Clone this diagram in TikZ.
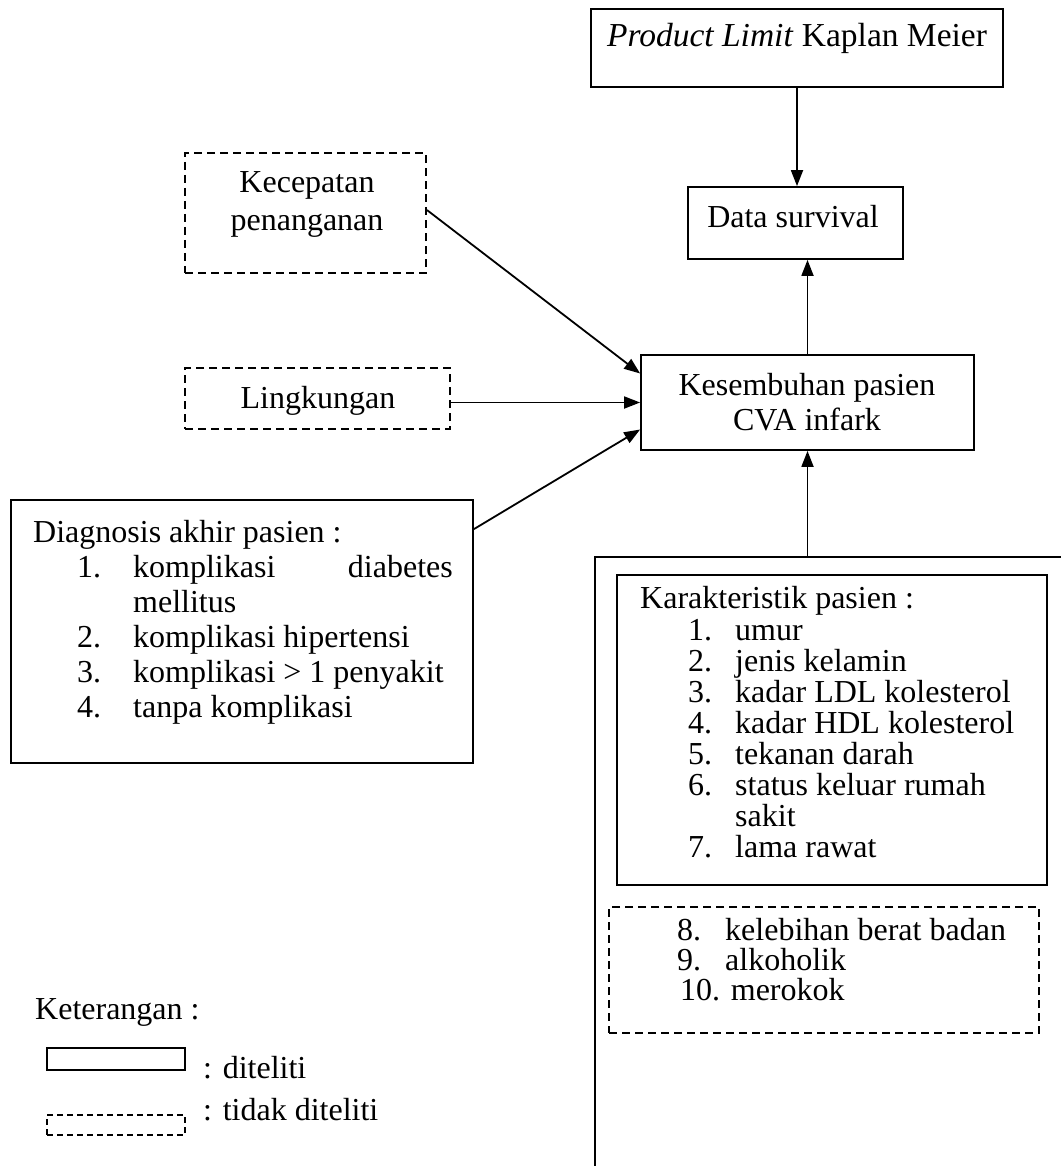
\documentclass[tikz,border=0pt]{standalone}
\usepackage{fontspec}
\setmainfont{Liberation Serif}
\usetikzlibrary{arrows.meta}
\begin{document}
\begin{tikzpicture}[x=1pt,y=-1pt,
  box/.style={draw,line width=1.8pt,rectangle,inner sep=0pt},
  dbox/.style={box,dash pattern=on 8pt off 5pt},
  txt/.style={inner sep=0pt,anchor=base,font=\fontsize{32}{34}\selectfont},
  ltxt/.style={txt,anchor=base west},
  rtxt/.style={txt,anchor=base east},
  arr/.style={line width=1.8pt,-{Triangle[length=16pt,width=12pt]}},
  ln/.style={line width=1.8pt}]
\useasboundingbox[fill=white] (0,0) rectangle (1061,1166);

% boxes
\node[box,minimum width=412pt,minimum height=78pt] (pl) at (797,48) {};
\node[box,minimum width=215pt,minimum height=72pt] (ds) at (795.5,223) {};
\node[box,minimum width=333pt,minimum height=95pt] (kes) at (807.5,402.5) {};
\node[dbox,minimum width=241pt,minimum height=120pt] (kec) at (305.5,213) {};
\node[dbox,minimum width=265pt,minimum height=61pt] (lin) at (317.5,398.5) {};
\node[box,minimum width=462pt,minimum height=263pt] (dia) at (242,631.5) {};
\node[box,minimum width=430pt,minimum height=310pt] (kar) at (832,730) {};
\node[dbox,minimum width=430pt,minimum height=126pt] (dl) at (824,970) {};
\node[box,minimum width=138pt,minimum height=22pt] (lg1) at (116,1059) {};
\node[dbox,dash pattern=on 6pt off 4pt,minimum width=138pt,minimum height=20pt] (lg2) at (116,1125) {};

% texts
\node[txt,font=\fontsize{33.5}{36}\selectfont] (plt) at (797,47) {\textit{Product Limit} Kaplan Meier};
\node[txt] (dst) at (793,228) {Data survival};
\node[txt] (kes1) at (807,395) {Kesembuhan pasien};
\node[txt] (kes2) at (807,430) {CVA infark};
\node[txt] (kec1) at (307,193) {Kecepatan};
\node[txt] (kec2) at (307,230) {penanganan};
\node[txt] (lint) at (318,408) {Lingkungan};

\node[ltxt] (diat) at (33,542) {Diagnosis akhir pasien :};
\node[ltxt] (dn1) at (77,577) {1.};
\node[ltxt] (di1) at (133,577) {komplikasi};
\node[rtxt] (di1b) at (453,577) {diabetes};
\node[ltxt] (di1c) at (133,612) {mellitus};
\node[ltxt] (dn2) at (77,647) {2.};
\node[ltxt] (di2) at (133,647) {komplikasi hipertensi};
\node[ltxt] (dn3) at (77,682) {3.};
\node[ltxt] (di3) at (133,682) {komplikasi > 1 penyakit};
\node[ltxt] (dn4) at (77,717) {4.};
\node[ltxt] (di4) at (133,717) {tanpa komplikasi};

\node[ltxt] (kart) at (640,608) {Karakteristik pasien :};
\foreach \n/\t/\y in {1/umur/640, 2/jenis kelamin/671, 3/kadar LDL kolesterol/702,
  4/kadar HDL kolesterol/733, 5/tekanan darah/764, 6/status keluar rumah/795, 7/lama rawat/857}{
  \node[ltxt] (kn\n) at (688,\y) {\n.};
  \node[ltxt] (ki\n) at (735,\y) {\t};
}
\node[ltxt] (ki6b) at (735,826) {sakit};

\node[ltxt] (ln8) at (677,940) {8.};
\node[ltxt] (li8) at (725,940) {kelebihan berat badan};
\node[ltxt] (ln9) at (677,970) {9.};
\node[ltxt] (li9) at (725,970) {alkoholik};
\node[ltxt] (li10) at (680,1000) {10. merokok};

\node[ltxt] (ket) at (35,1019) {Keterangan :};
\node[ltxt] (ket1) at (203,1078) {: diteliti};
\node[ltxt] (ket2) at (203,1120) {: tidak diteliti};

% outer frame lines
\coordinate (ob) at (595,1166);
\coordinate (oc) at (595,557);
\coordinate (oe) at (1061,557);
\coordinate (oj) at (807.5,557);
\draw[ln] (ob) -- (oc) -- (oe);

% connectors
\draw[arr] (pl.south) -- (pl.south |- ds.north);
\draw[arr] (kes.north) -- (kes.north |- ds.south);
\draw[arr] (oj) -- (kes.south);
\draw[arr] ([yshift=3pt]kec.east) -- ([yshift=29pt]kes.west);
\draw[arr] ([yshift=-4pt]lin.east) -- ([yshift=-4pt]lin.east -| kes.west);
\draw[arr] ([yshift=-30pt]dia.north east) -- ([yshift=-27pt]kes.west);
\end{tikzpicture}
\end{document}
